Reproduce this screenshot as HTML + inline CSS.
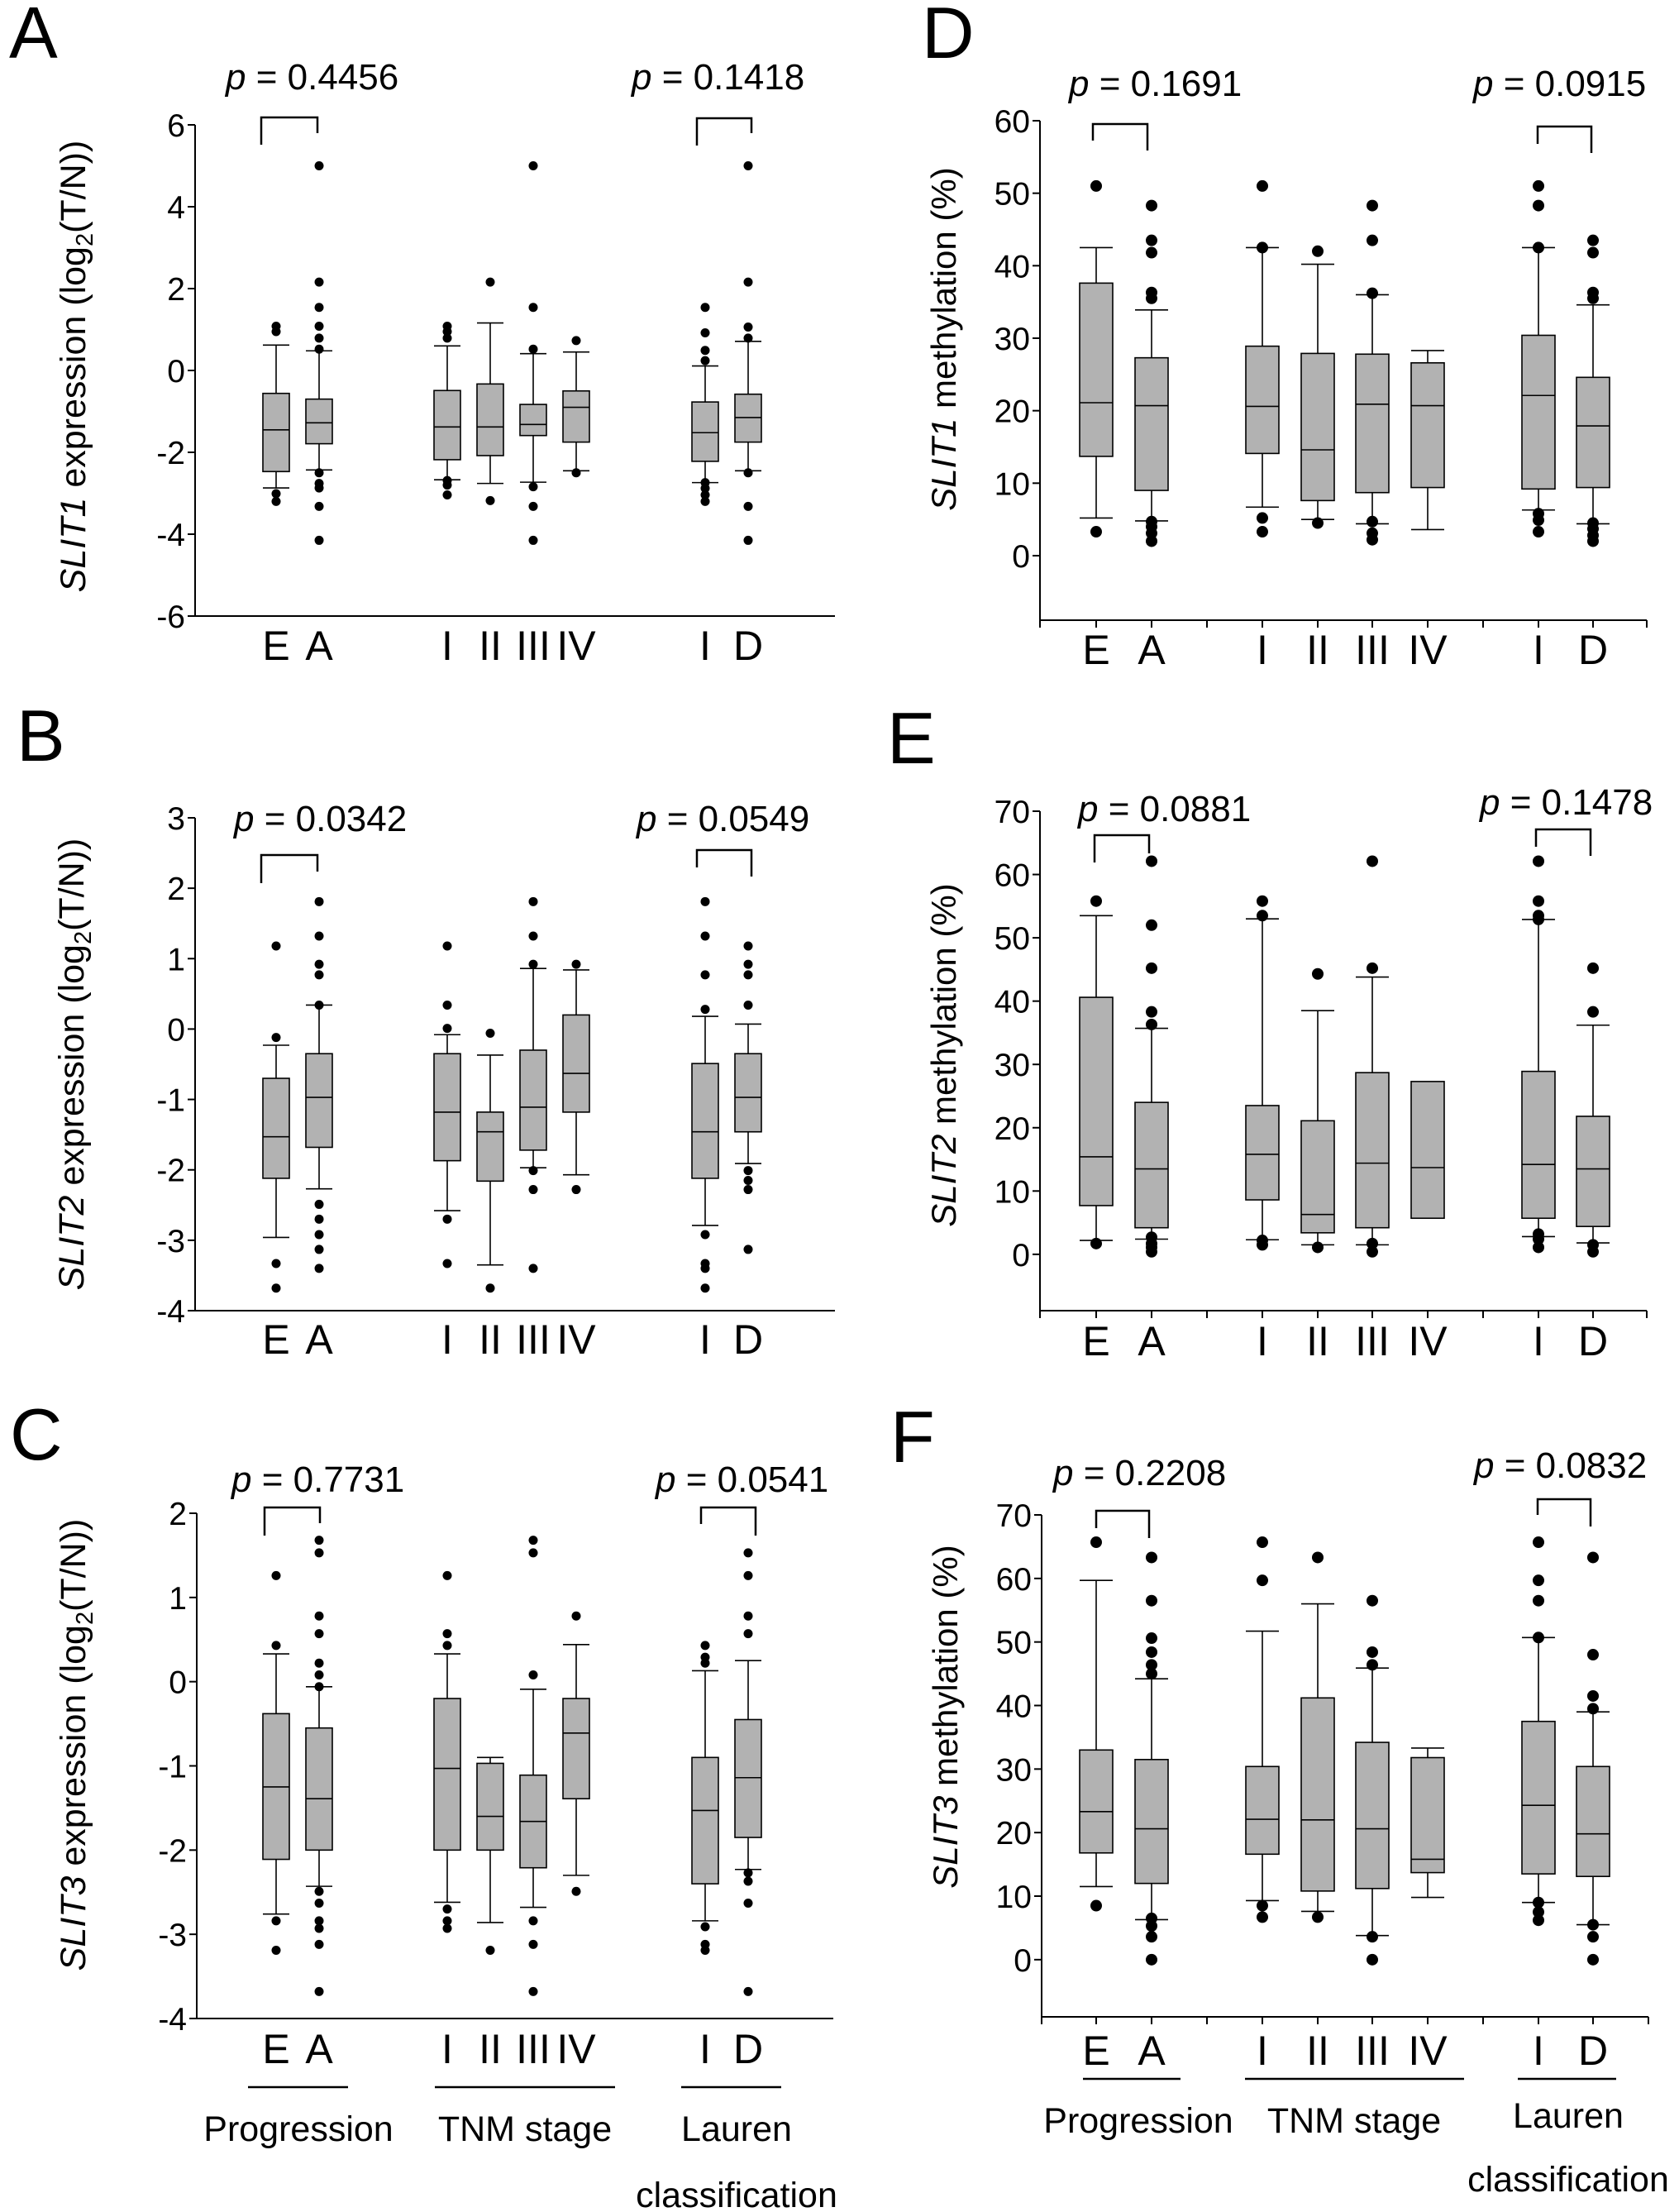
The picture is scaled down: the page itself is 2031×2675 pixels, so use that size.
<!DOCTYPE html>
<html><head><meta charset="utf-8"><style>
html,body{margin:0;padding:0;background:#fff;}
svg{display:block;font-family:"Liberation Sans",Arial,sans-serif;}
</style></head><body>
<svg id="fig" width="2031" height="2675" viewBox="0 0 2031 2675" xmlns="http://www.w3.org/2000/svg"></svg>
<script>
// ---- shared categories ----
const categories = ['E','A','I','II','III','IV','I','D'];

// ---- Panel A: SLIT1 expression ----
const A_whiskerHigh = [0.62,0.48,0.60,1.16,0.41,0.45,0.11,0.71];
const A_q3 = [-0.56,-0.70,-0.49,-0.33,-0.83,-0.50,-0.77,-0.58];
const A_median = [-1.45,-1.28,-1.38,-1.38,-1.32,-0.90,-1.52,-1.15];
const A_q1 = [-2.47,-1.79,-2.18,-2.08,-1.59,-1.75,-2.22,-1.75];
const A_whiskerLow = [-2.87,-2.43,-2.67,-2.76,-2.73,-2.45,-2.74,-2.45];
const A_outliers = [[1.08,0.95,-3.01,-3.2],[5.0,2.16,1.54,1.08,0.79,0.52,-2.5,-2.76,-2.87,-3.32,-4.15],[1.08,0.95,0.79,-2.69,-2.8,-3.04],[2.16,-3.18],[5.0,1.54,0.52,-2.84,-3.32,-4.15],[0.73,-2.5],[1.54,0.92,0.49,0.24,-2.74,-2.88,-3.04,-3.2],[5.0,2.16,1.06,0.79,-2.5,-3.32,-4.15]];
const A_ticks = [6,4,2,0,-2,-4,-6];

// ---- Panel B: SLIT2 expression ----
const B_whiskerHigh = [-0.23,0.34,-0.08,-0.37,0.86,0.84,0.18,0.07];
const B_q3 = [-0.70,-0.35,-0.35,-1.18,-0.30,0.20,-0.49,-0.35];
const B_median = [-1.53,-0.97,-1.18,-1.46,-1.11,-0.63,-1.46,-0.97];
const B_q1 = [-2.12,-1.68,-1.87,-2.16,-1.72,-1.18,-2.12,-1.46];
const B_whiskerLow = [-2.96,-2.27,-2.58,-3.35,-1.97,-2.07,-2.79,-1.91];
const B_outliers = [[1.18,-0.12,-3.33,-3.68],[1.81,1.32,0.92,0.77,0.34,-2.49,-2.70,-2.92,-3.13,-3.40],[1.18,0.34,0.01,-2.70,-3.33],[-0.06,-3.68],[1.81,1.32,0.92,-2.01,-2.28,-3.40],[0.92,-2.28],[1.81,1.32,0.77,0.28,-2.92,-3.33,-3.40,-3.68],[1.18,0.92,0.77,0.34,-2.01,-2.15,-2.28,-3.13]];
const B_ticks = [3,2,1,0,-1,-2,-3,-4];

// ---- Panel C: SLIT3 expression ----
const C_whiskerHigh = [0.33,-0.06,0.33,-0.90,-0.09,0.44,0.13,0.25];
const C_q3 = [-0.38,-0.55,-0.20,-0.97,-1.11,-0.20,-0.90,-0.45];
const C_median = [-1.25,-1.39,-1.03,-1.60,-1.66,-0.61,-1.53,-1.14];
const C_q1 = [-2.11,-2.00,-2.00,-2.00,-2.21,-1.39,-2.40,-1.85];
const C_whiskerLow = [-2.76,-2.43,-2.62,-2.86,-2.68,-2.30,-2.84,-2.23];
const C_outliers = [[1.26,0.43,-2.84,-3.19],[1.68,1.53,0.78,0.57,0.22,0.08,-0.06,-2.49,-2.63,-2.84,-2.93,-3.12,-3.68],[1.26,0.57,0.43,-2.70,-2.84,-2.93],[-3.19],[1.68,1.53,0.08,-2.84,-3.12,-3.68],[0.78,-2.49],[0.43,0.29,0.22,-2.91,-3.12,-3.19],[1.53,1.26,0.78,0.57,-2.27,-2.37,-2.63,-3.68]];
const C_ticks = [2,1,0,-1,-2,-3,-4];

// ---- Panel D: SLIT1 methylation ----
const D_whiskerHigh = [42.5,33.9,42.5,40.2,36.0,28.3,42.5,34.6];
const D_q3 = [37.6,27.3,28.9,27.9,27.8,26.6,30.4,24.6];
const D_median = [21.1,20.7,20.6,14.6,20.9,20.7,22.1,17.9];
const D_q1 = [13.7,9.0,14.1,7.6,8.7,9.4,9.2,9.4];
const D_whiskerLow = [5.2,4.8,6.7,5.0,4.4,3.6,6.3,4.4];
const D_outliers = [[51,3.3],[48.3,43.5,41.8,36.3,35.5,4.7,4.0,3.1,2.0],[51,42.5,5.2,3.3],[42,4.5],[48.3,43.5,36.2,4.7,3.1,2.2],[],[51,48.3,42.5,5.8,4.9,3.3],[43.5,41.8,36.3,35.5,4.5,3.7,2.8,2.0]];
const D_ticks = [60,50,40,30,20,10,0];

// ---- Panel E: SLIT2 methylation ----
const E_whiskerHigh = [53.5,35.7,53.0,38.5,43.8,null,52.9,36.2];
const E_q3 = [40.6,24.0,23.5,21.1,28.7,27.3,28.9,21.8];
const E_median = [15.4,13.5,15.8,6.3,14.4,13.7,14.2,13.5];
const E_q1 = [7.7,4.2,8.6,3.4,4.2,5.7,5.7,4.4];
const E_whiskerLow = [2.2,2.4,2.3,1.5,1.5,null,2.8,1.8];
const E_outliers = [[55.8,1.7],[62.1,52.0,45.2,38.3,36.3,2.7,1.7,1.1,0.4],[55.8,53.5,2.2,1.5],[44.3,1.1],[62.1,45.2,1.7,0.4],[],[62.1,55.8,53.5,52.9,3.2,2.4,1.1],[45.2,38.3,1.5,0.4]];
const E_ticks = [70,60,50,40,30,20,10,0];

// ---- Panel F: SLIT3 methylation ----
const F_whiskerHigh = [59.7,44.2,51.7,56.0,45.9,33.3,50.7,39.0];
const F_q3 = [33.0,31.5,30.4,41.2,34.2,31.8,37.5,30.4];
const F_median = [23.3,20.6,22.1,22.0,20.6,15.8,24.3,19.8];
const F_q1 = [16.8,12.0,16.6,10.8,11.2,13.7,13.5,13.1];
const F_whiskerLow = [11.5,6.3,9.3,7.6,3.8,9.8,9.0,5.5];
const F_outliers = [[65.7,8.5],[63.3,56.5,50.6,48.4,46.4,45.0,6.5,5.3,3.6,0],[65.7,59.7,8.5,6.7],[63.3,6.7],[56.5,48.4,46.4,3.6,0],[],[65.7,59.7,56.5,50.7,9.0,7.5,6.2],[63.3,48.0,41.5,39.5,5.5,3.6,0]];
const F_ticks = [70,60,50,40,30,20,10,0];

const NS = 'http://www.w3.org/2000/svg';
const svg = document.getElementById('fig');
function mk(tag, attrs, parent){
  const e = document.createElementNS(NS, tag);
  for (const k in attrs) e.setAttribute(k, attrs[k]);
  (parent||svg).appendChild(e);
  return e;
}

const exprX = [334,386,541,593,645,697,853,905];
const methX = [1326,1393,1527,1594,1660,1727,1861,1927];

const panels = [
 {id:'a', letter:'A', lx:11, ly:70, axisX:236, xEnd:1010, vmax:6, yTop:151, vmin:-6, yBot:745, ticks:A_ticks,
  wh:A_whiskerHigh,q3:A_q3,med:A_median,q1:A_q1,wl:A_whiskerLow,out:A_outliers, cx:exprX, bw:32, r:5.5,
  labelY:798, title:['SLIT1',' expression (log','2','(T/N))'], tx:88, ty:443,
  br1:[316,384,142,175,161], br2:[843,909,143,176,161], p1:[273,108,'0.4456'], p2:[764,108,'0.1418'], xticks:false},
 {id:'b', letter:'B', lx:20, ly:920, axisX:236, xEnd:1010, vmax:3, yTop:989, vmin:-4, yBot:1585, ticks:B_ticks,
  wh:B_whiskerHigh,q3:B_q3,med:B_median,q1:B_q1,wl:B_whiskerLow,out:B_outliers, cx:exprX, bw:32, r:5.5,
  labelY:1637, title:['SLIT2',' expression (log','2','(T/N))'], tx:86, ty:1287,
  br1:[316,384,1034,1068,1054], br2:[843,909,1028,1049,1060], p1:[283,1005,'0.0342'], p2:[770,1005,'0.0549'], xticks:false},
 {id:'c', letter:'C', lx:12, ly:1765, axisX:238, xEnd:1008, vmax:2, yTop:1830, vmin:-4, yBot:2441, ticks:C_ticks,
  wh:C_whiskerHigh,q3:C_q3,med:C_median,q1:C_q1,wl:C_whiskerLow,out:C_outliers, cx:exprX, bw:32, r:5.5,
  labelY:2495, title:['SLIT3',' expression (log','2','(T/N))'], tx:88, ty:2110,
  br1:[320,387,1823,1857,1842], br2:[848,914,1823,1843,1857], p1:[280,1804,'0.7731'], p2:[793,1804,'0.0541'], xticks:false,
  groups:[[300,421,2524,361,'Progression',2589],[526,744,2524,635,'TNM stage',2589],[824,945,2524,891,'Lauren',2589]], cls:[891,2669]},
 {id:'d', letter:'D', lx:1115, ly:70, axisX:1258, xEnd:1992, vmax:60, yTop:146, vmin:-8.9, yBot:750, ticks:D_ticks,
  wh:D_whiskerHigh,q3:D_q3,med:D_median,q1:D_q1,wl:D_whiskerLow,out:D_outliers, cx:methX, bw:40, r:7,
  labelY:803, title:['SLIT1',' methylation (%)'], tx:1141, ty:410,
  br1:[1322,1388,150,170,182], br2:[1860,1925,153,174,185], p1:[1293,116,'0.1691'], p2:[1782,116,'0.0915'], xticks:true},
 {id:'e', letter:'E', lx:1073, ly:923, axisX:1258, xEnd:1992, vmax:70, yTop:981, vmin:-8.9, yBot:1585, ticks:E_ticks,
  wh:E_whiskerHigh,q3:E_q3,med:E_median,q1:E_q1,wl:E_whiskerLow,out:E_outliers, cx:methX, bw:40, r:7,
  labelY:1639, title:['SLIT2',' methylation (%)'], tx:1141, ty:1276,
  br1:[1324,1390,1010,1043,1032], br2:[1858,1924,1003,1024,1035], p1:[1304,993,'0.0881'], p2:[1790,985,'0.1478'], xticks:true},
 {id:'f', letter:'F', lx:1077, ly:1768, axisX:1260, xEnd:1994, vmax:70, yTop:1832, vmin:-9.0, yBot:2439, ticks:F_ticks,
  wh:F_whiskerHigh,q3:F_q3,med:F_median,q1:F_q1,wl:F_whiskerLow,out:F_outliers, cx:methX, bw:40, r:7,
  labelY:2497, title:['SLIT3',' methylation (%)'], tx:1143, ty:2076,
  br1:[1326,1390,1827,1848,1860], br2:[1860,1924,1813,1832,1846], p1:[1274,1796,'0.2208'], p2:[1783,1787,'0.0832'], xticks:true,
  groups:[[1310,1428,2514,1377,'Progression',2579],[1506,1771,2514,1638,'TNM stage',2579],[1836,1955,2514,1897,'Lauren',2573]], cls:[1897,2650]}
];

panels.forEach(P=>{
  const g = mk('g',{});
  
  
  const y = v => P.yTop + (P.vmax - v) * (P.yBot - P.yTop) / (P.vmax - P.vmin);

  const L = mk('text',{x:P.lx,y:P.ly,'font-size':88},g);
  L.textContent = P.letter;
  
  

  const ya = mk('line',{x1:P.axisX,y1:P.yTop,x2:P.axisX,y2:P.yBot,stroke:'#000','stroke-width':2},g);
  
  
  const xa = mk('line',{x1:P.axisX,y1:P.yBot,x2:P.xEnd,y2:P.yBot,stroke:'#000','stroke-width':2},g);
  
  

  P.ticks.forEach(t=>{
    const ty = y(t);
    mk('line',{x1:P.axisX-9,y1:ty,x2:P.axisX,y2:ty,stroke:'#000','stroke-width':2},g);
    const tl = mk('text',{x:P.axisX-12,y:ty+14,'font-size':39,'text-anchor':'end'},g);
    tl.textContent = String(t);
    
    
  });

  if (P.xticks){
    const sep = [P.axisX, (P.cx[1]+P.cx[2])/2, (P.cx[5]+P.cx[6])/2, P.xEnd].concat(P.cx);
    sep.forEach(sx=>mk('line',{x1:sx,y1:P.yBot,x2:sx,y2:P.yBot+9,stroke:'#000','stroke-width':2},g));
  }

  const tt = mk('text',{x:0,y:0,'font-size':P.xticks?42:43,'text-anchor':'middle',transform:`translate(${P.tx},${P.ty}) rotate(-90)`,dy:15},g);
  
  
  const s1 = mk('tspan',{'font-style':'italic'},tt); s1.textContent = P.title[0];
  const s2 = mk('tspan',{},tt); s2.textContent = P.title[1];
  if (P.title.length>2){
    const s3 = mk('tspan',{dy:9,'font-size':29},tt); s3.textContent = P.title[2];
    const s4 = mk('tspan',{dy:-9},tt); s4.textContent = P.title[3];
  }

  categories.forEach((c,i)=>{
    const cx = P.cx[i], hw = P.bw/2;
    const bg = mk('g',{},g);
    
    
    if (P.wh[i]!=null){
      mk('line',{x1:cx,y1:y(P.wh[i]),x2:cx,y2:y(P.q3[i]),stroke:'#000','stroke-width':1.6},bg);
      mk('line',{x1:cx-hw,y1:y(P.wh[i]),x2:cx+hw,y2:y(P.wh[i]),stroke:'#000','stroke-width':1.6},bg);
    }
    if (P.wl[i]!=null){
      mk('line',{x1:cx,y1:y(P.q1[i]),x2:cx,y2:y(P.wl[i]),stroke:'#000','stroke-width':1.6},bg);
      mk('line',{x1:cx-hw,y1:y(P.wl[i]),x2:cx+hw,y2:y(P.wl[i]),stroke:'#000','stroke-width':1.6},bg);
    }
    mk('rect',{x:cx-hw,y:y(P.q3[i]),width:P.bw,height:y(P.q1[i])-y(P.q3[i]),fill:'#b2b2b2',stroke:'#000','stroke-width':1.6},bg);
    mk('line',{x1:cx-hw,y1:y(P.med[i]),x2:cx+hw,y2:y(P.med[i]),stroke:'#000','stroke-width':1.6},bg);
    P.out[i].forEach(v=>{
      const d = mk('circle',{cx:cx,cy:y(v),r:P.r,fill:'#000'},bg);
      
      
    });
    const cl = mk('text',{x:cx,y:P.labelY,'font-size':50,'text-anchor':'middle'},g);
    cl.textContent = c;
    
    
  });

  [P.br1,P.br2].forEach(b=>{
    const br = mk('path',{d:`M${b[0]},${b[3]} V${b[2]} H${b[1]} V${b[4]}`,fill:'none',stroke:'#000','stroke-width':2.5},g);
    
    
  });
  [P.p1,P.p2].forEach(p=>{
    const t = mk('text',{x:p[0],y:p[1],'font-size':44},g);
    
    
    const a = mk('tspan',{'font-style':'italic'},t); a.textContent='p';
    const b = mk('tspan',{},t); b.textContent=' = '+p[2];
  });

  if (P.groups){
    P.groups.forEach(gr=>{
      mk('line',{x1:gr[0],y1:gr[2],x2:gr[1],y2:gr[2],stroke:'#000','stroke-width':2.5},g);
      const t = mk('text',{x:gr[3],y:gr[5],'font-size':43,'text-anchor':'middle'},g);
      t.textContent = gr[4];
      
      
    });
    const t2 = mk('text',{x:P.cls[0],y:P.cls[1],'font-size':43,'text-anchor':'middle'},g);
    t2.textContent = 'classification';
    
    
  }
});
</script>
</body></html>
